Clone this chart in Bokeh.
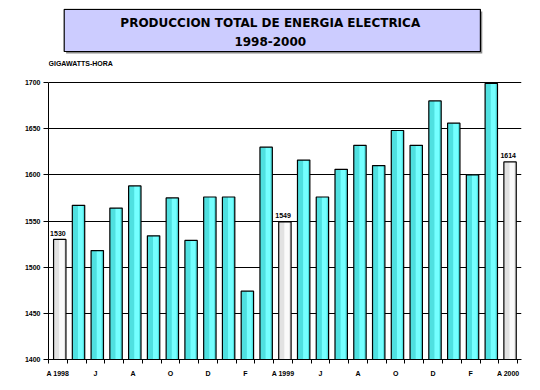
from bokeh.plotting import figure
from bokeh.models import FixedTicker, Range1d, ColumnDataSource
from bokeh.core.properties import value
from bokeh.embed import file_html
from bokeh.resources import INLINE

# ---- data ----
months = ["A 1998", "M", "J", "J", "A", "S", "O", "N", "D", "E", "F", "M",
          "A 1999", "M", "J", "J", "A", "S", "O", "N", "D", "E", "F", "M",
          "A 2000"]
produccion = [1530, 1567, 1518, 1564, 1588, 1534, 1575, 1529, 1576, 1576, 1474, 1630,
              1549, 1616, 1576, 1606, 1632, 1610, 1648, 1632, 1680, 1656, 1600, 1699,
              1614]
y_ticks = [1400, 1450, 1500, 1550, 1600, 1650, 1700]
title_lines = ["PRODUCCION TOTAL DE ENERGIA ELECTRICA", "1998-2000"]
y_title = "GIGAWATTS-HORA"
highlight_months = [0, 12, 24]

# ---- layout ----
n = len(produccion)
xs = list(range(n))
is_hl = [i in highlight_months for i in xs]
base_col = ["#e2e2e2" if h else "#4fe0e0" for h in is_hl]
shine_col = ["#fafafa" if h else "#74ffff" for h in is_hl]

src = ColumnDataSource(dict(
    x=[i + 0.1 for i in xs],
    xs=[i + 0.2 for i in xs],
    top=produccion,
    base=base_col,
    shine=shine_col,
))

lab_x = [i for i in xs if is_hl[i]]
lab_y = [produccion[i] for i in lab_x]
lab_t = [str(produccion[i]) for i in lab_x]

p = figure(width=524, height=380, output_backend="svg", toolbar_location=None,
           x_range=Range1d(-0.5, 24.71), y_range=Range1d(1400, 1780.15),
           min_border_left=48, min_border_right=3, min_border_top=8,
           min_border_bottom=21)
p.title.visible = False
p.outline_line_color = None
p.background_fill_color = "white"
p.border_fill_color = "white"

# title box (decoration in frame coordinates)
p.quad(left=[0.44], right=[22.62], top=[1777.0], bottom=[1731.4],
       fill_color="#8a8a8a", line_color=None)
p.quad(left=[0.337], right=[22.52], top=[1779.1], bottom=[1733.6],
       fill_color="#ccccff", line_color="black", line_width=1.2)
p.text(x=[11.32], y=[1764.4], text=[title_lines[0]], text_align="center",
       text_baseline="middle", text_font=value("DejaVu Sans"),
       text_font_style="bold", text_font_size="12px", text_color="black")
p.text(x=[11.32], y=[1744.2], text=[title_lines[1]], text_align="center",
       text_baseline="middle", text_font=value("DejaVu Sans"),
       text_font_style="bold", text_font_size="12px", text_color="black")
p.text(x=[-0.5], y=[1720.9], text=[y_title], text_align="left",
       text_baseline="middle", text_font=value("Liberation Sans"),
       text_font_style="bold", text_font_size="7px", text_color="black")

# bars
p.vbar(x="x", top="top", bottom=1400, width=0.66, source=src,
       fill_color="base", line_color=None)
p.vbar(x="xs", top="top", bottom=1400, width=0.26, source=src,
       fill_color="shine", line_color=None)
p.vbar(x="x", top="top", bottom=1400, width=0.66, source=src,
       fill_color=None, line_color="black", line_width=1.2)

p.text(x=lab_x, y=lab_y, text=lab_t, text_align="center",
       text_baseline="alphabetic", y_offset=-6,
       text_font=value("Liberation Sans"), text_font_style="bold",
       text_font_size="7px", text_color="black")

# axes
p.yaxis.ticker = FixedTicker(ticks=y_ticks)
p.yaxis.bounds = (1400, 1700)
p.yaxis.major_tick_out = 5
p.yaxis.major_tick_in = 0
p.yaxis.minor_tick_out = 0
p.yaxis.minor_tick_in = 0
p.yaxis.major_label_standoff = 3
p.yaxis.axis_line_color = "black"
p.yaxis.major_tick_line_color = "black"
p.yaxis.major_label_text_font = "Liberation Sans"
p.yaxis.major_label_text_font_style = "bold"
p.yaxis.major_label_text_font_size = "7px"
p.yaxis.major_label_text_color = "black"

p.ygrid.ticker = FixedTicker(ticks=y_ticks)
p.ygrid.grid_line_color = "black"
p.ygrid.grid_line_width = 1
p.xgrid.grid_line_color = None

label_pos = [i for i in xs if i % 2 == 0]
p.xaxis.ticker = FixedTicker(ticks=label_pos, minor_ticks=[i - 0.5 for i in range(n + 1)])
p.xaxis.major_label_overrides = {i: months[i] for i in label_pos}
p.xaxis.major_tick_out = 0
p.xaxis.major_tick_in = 0
p.xaxis.minor_tick_out = 4
p.xaxis.minor_tick_in = 0
p.xaxis.minor_tick_line_color = "black"
p.xaxis.axis_line_color = "black"
p.xaxis.major_label_standoff = 6
p.xaxis.major_label_text_font = "Liberation Sans"
p.xaxis.major_label_text_font_style = "bold"
p.xaxis.major_label_text_font_size = "7px"
p.xaxis.major_label_text_color = "black"

open("out.html", "w").write(file_html(p, INLINE))
